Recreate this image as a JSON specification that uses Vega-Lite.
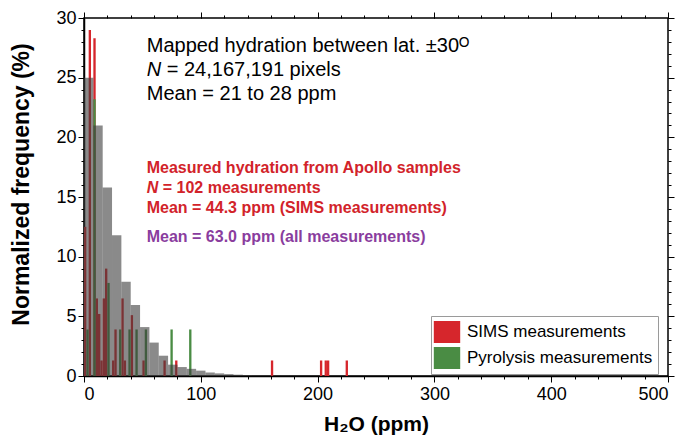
{
  "$schema": "https://vega.github.io/schema/vega-lite/v6.json",
  "width": 584,
  "height": 358,
  "autosize": {"type": "none"},
  "padding": {"left": 84, "top": 18, "right": 21, "bottom": 66},
  "background": "white",
  "config": {
    "font": "Liberation Sans",
    "view": {"stroke": "black", "strokeWidth": 1.5},
    "axis": {
      "grid": false,
      "domainColor": "black",
      "domainWidth": 1.5,
      "tickColor": "black",
      "tickWidth": 1,
      "labelFont": "Liberation Sans",
      "labelFontSize": 18,
      "labelColor": "black",
      "titleFont": "Liberation Sans",
      "titleFontSize": 21,
      "titleFontWeight": "bold",
      "titleColor": "black"
    }
  },
  "datasets": {
    "apollo": [
      {"x0": 0, "x1": 2, "freq": 12.5, "method": "SIMS measurements"},
      {"x0": 4, "x1": 6, "freq": 29.0, "method": "SIMS measurements"},
      {"x0": 8, "x1": 10, "freq": 28.3, "method": "SIMS measurements"},
      {"x0": 10, "x1": 12, "freq": 6.5, "method": "SIMS measurements"},
      {"x0": 12, "x1": 14, "freq": 5.2, "method": "SIMS measurements"},
      {"x0": 14, "x1": 16, "freq": 1.3, "method": "SIMS measurements"},
      {"x0": 16, "x1": 18, "freq": 6.5, "method": "SIMS measurements"},
      {"x0": 18, "x1": 20, "freq": 9.0, "method": "SIMS measurements"},
      {"x0": 24, "x1": 26, "freq": 1.3, "method": "SIMS measurements"},
      {"x0": 26, "x1": 28, "freq": 3.9, "method": "SIMS measurements"},
      {"x0": 32, "x1": 34, "freq": 6.5, "method": "SIMS measurements"},
      {"x0": 34, "x1": 36, "freq": 1.3, "method": "SIMS measurements"},
      {"x0": 40, "x1": 42, "freq": 5.1, "method": "SIMS measurements"},
      {"x0": 50, "x1": 52, "freq": 1.3, "method": "SIMS measurements"},
      {"x0": 68, "x1": 70, "freq": 1.3, "method": "SIMS measurements"},
      {"x0": 78, "x1": 80, "freq": 1.3, "method": "SIMS measurements"},
      {"x0": 160, "x1": 162, "freq": 1.3, "method": "SIMS measurements"},
      {"x0": 202, "x1": 204, "freq": 1.3, "method": "SIMS measurements"},
      {"x0": 206, "x1": 208, "freq": 1.3, "method": "SIMS measurements"},
      {"x0": 208, "x1": 210, "freq": 1.3, "method": "SIMS measurements"},
      {"x0": 224, "x1": 226, "freq": 1.3, "method": "SIMS measurements"},
      {"x0": 2, "x1": 4, "freq": 3.9, "method": "Pyrolysis measurements"},
      {"x0": 8, "x1": 10, "freq": 23.2, "method": "Pyrolysis measurements"},
      {"x0": 20, "x1": 22, "freq": 7.8, "method": "Pyrolysis measurements"},
      {"x0": 30, "x1": 32, "freq": 3.9, "method": "Pyrolysis measurements"},
      {"x0": 38, "x1": 40, "freq": 3.9, "method": "Pyrolysis measurements"},
      {"x0": 44, "x1": 46, "freq": 3.9, "method": "Pyrolysis measurements"},
      {"x0": 52, "x1": 54, "freq": 3.9, "method": "Pyrolysis measurements"},
      {"x0": 74, "x1": 76, "freq": 3.9, "method": "Pyrolysis measurements"},
      {"x0": 90, "x1": 92, "freq": 3.9, "method": "Pyrolysis measurements"}
    ],
    "mapped": [
      {"x0": 0, "x1": 8, "freq": 25.0},
      {"x0": 8, "x1": 16, "freq": 21.0},
      {"x0": 16, "x1": 24, "freq": 15.8},
      {"x0": 24, "x1": 32, "freq": 11.8},
      {"x0": 32, "x1": 40, "freq": 7.9},
      {"x0": 40, "x1": 48, "freq": 5.95},
      {"x0": 48, "x1": 56, "freq": 4.1},
      {"x0": 56, "x1": 64, "freq": 2.8},
      {"x0": 64, "x1": 72, "freq": 1.7},
      {"x0": 72, "x1": 80, "freq": 0.95},
      {"x0": 80, "x1": 88, "freq": 0.75},
      {"x0": 88, "x1": 96, "freq": 0.6},
      {"x0": 96, "x1": 104, "freq": 0.45},
      {"x0": 104, "x1": 112, "freq": 0.3},
      {"x0": 112, "x1": 120, "freq": 0.22},
      {"x0": 120, "x1": 128, "freq": 0.16},
      {"x0": 128, "x1": 136, "freq": 0.11},
      {"x0": 136, "x1": 144, "freq": 0.08},
      {"x0": 144, "x1": 152, "freq": 0.05},
      {"x0": 152, "x1": 160, "freq": 0.04},
      {"x0": 160, "x1": 168, "freq": 0.03},
      {"x0": 168, "x1": 176, "freq": 0.02},
      {"x0": 176, "x1": 184, "freq": 0.015},
      {"x0": 184, "x1": 200, "freq": 0.01}
    ],
    "blackText": [
      {"x": 53.7, "y": 27.15, "text": "Mapped hydration between lat. ±30ᴼ"},
      {"x": 53.7, "y": 23.14, "text": "Mean = 21 to 28 ppm"}
    ],
    "blackN": [{"x": 53.7, "y": 25.1, "text": "N"}],
    "blackRest": [{"x": 53.7, "y": 25.1, "text": "= 24,167,191 pixels"}],
    "redText": [
      {"x": 53.7, "y": 16.99, "text": "Measured hydration from Apollo samples"},
      {"x": 53.7, "y": 13.68, "text": "Mean = 44.3 ppm (SIMS measurements)"}
    ],
    "redN": [{"x": 53.7, "y": 15.31, "text": "N"}],
    "redRest": [{"x": 53.7, "y": 15.31, "text": "= 102 measurements"}],
    "purpleText": [{"x": 53.7, "y": 11.25, "text": "Mean = 63.0 ppm (all measurements)"}]
  },
  "layer": [
    {
      "data": {"name": "apollo"},
      "mark": {"type": "bar"},
      "encoding": {
        "x": {
          "field": "x0", "type": "quantitative",
          "scale": {"domain": [0, 500], "nice": false, "zero": false},
          "axis": {
            "orient": "bottom",
            "title": "H₂O (ppm)",
            "values": [0, 100, 200, 300, 400, 500],
            "tickSize": 6,
            "labelPadding": 3,
            "titlePadding": 10
          }
        },
        "x2": {"field": "x1"},
        "y": {
          "field": "freq", "type": "quantitative",
          "scale": {"domain": [0, 30], "nice": false},
          "axis": {
            "orient": "left",
            "title": "Normalized frequency (%)",
            "titleFontSize": 23,
            "titleY": 166,
            "values": [0, 5, 10, 15, 20, 25, 30],
            "tickSize": 6,
            "labelPadding": 2,
            "titlePadding": 22
          }
        },
        "y2": {"datum": 0},
        "color": {
          "field": "method", "type": "nominal",
          "scale": {"domain": ["SIMS measurements", "Pyrolysis measurements"], "range": ["#d6262c", "#4a8c44"]},
          "legend": {
            "orient": "none",
            "legendX": 347,
            "legendY": 298,
            "title": null,
            "symbolType": "M-1.2,-1L1.2,-1L1.2,1L-1.2,1Z",
            "symbolSize": 484,
            "symbolStrokeWidth": 0,
            "symbolOpacity": 1,
            "labelFontSize": 17,
            "labelFont": "Liberation Sans",
            "labelColor": "black",
            "labelOffset": 9,
            "labelLimit": 300,
            "rowPadding": 4,
            "padding": 5,
            "strokeColor": "#9a9a9a",
            "fillColor": "white"
          }
        }
      }
    },
    {
      "data": {"name": "mapped"},
      "mark": {"type": "bar", "color": "#3c3c3c", "opacity": 0.6},
      "encoding": {
        "x": {
          "field": "x0", "type": "quantitative",
          "axis": {
            "orient": "bottom", "title": null, "labels": false, "domain": false, "tickSize": 3,
            "values": [0,20,40,60,80,100,120,140,160,180,200,220,240,260,280,300,320,340,360,380,400,420,440,460,480,500]
          }
        },
        "x2": {"field": "x1"},
        "y": {
          "field": "freq", "type": "quantitative",
          "axis": {
            "orient": "left", "title": null, "labels": false, "domain": false, "tickSize": 3,
            "values": [0,1,2,3,4,5,6,7,8,9,10,11,12,13,14,15,16,17,18,19,20,21,22,23,24,25,26,27,28,29,30]
          }
        },
        "y2": {"datum": 0}
      }
    },
    {
      "data": {"name": "blackText"},
      "mark": {"type": "text", "align": "left", "baseline": "alphabetic", "fontSize": 20, "font": "Liberation Sans", "color": "black"},
      "encoding": {
        "x": {
          "field": "x", "type": "quantitative",
          "axis": {
            "orient": "top", "title": null, "labels": false, "domain": false, "tickSize": 3,
            "values": [0,20,40,60,80,100,120,140,160,180,200,220,240,260,280,300,320,340,360,380,400,420,440,460,480,500]
          }
        },
        "y": {
          "field": "y", "type": "quantitative",
          "axis": {
            "orient": "right", "title": null, "labels": false, "domain": false, "tickSize": 3,
            "values": [0,1,2,3,4,5,6,7,8,9,10,11,12,13,14,15,16,17,18,19,20,21,22,23,24,25,26,27,28,29,30]
          }
        },
        "text": {"field": "text"}
      }
    },
    {
      "data": {"name": "blackN"},
      "mark": {"type": "text", "align": "left", "baseline": "alphabetic", "fontSize": 20, "font": "Liberation Sans", "fontStyle": "italic", "color": "black"},
      "encoding": {
        "x": {
          "field": "x", "type": "quantitative",
          "axis": {"orient": "top", "title": null, "labels": false, "domain": false, "tickSize": 6, "values": [0, 100, 200, 300, 400, 500]}
        },
        "y": {
          "field": "y", "type": "quantitative",
          "axis": {"orient": "right", "title": null, "labels": false, "domain": false, "tickSize": 6, "values": [0, 5, 10, 15, 20, 25, 30]}
        },
        "text": {"field": "text"}
      }
    },
    {
      "data": {"name": "blackRest"},
      "mark": {"type": "text", "align": "left", "baseline": "alphabetic", "fontSize": 20, "font": "Liberation Sans", "color": "black", "dx": 20},
      "encoding": {
        "x": {"field": "x", "type": "quantitative", "axis": null},
        "y": {"field": "y", "type": "quantitative", "axis": null},
        "text": {"field": "text"}
      }
    },
    {
      "data": {"name": "redText"},
      "mark": {"type": "text", "align": "left", "baseline": "alphabetic", "fontSize": 16, "font": "Liberation Sans", "fontWeight": "bold", "color": "#d2232a"},
      "encoding": {
        "x": {"field": "x", "type": "quantitative", "axis": null},
        "y": {"field": "y", "type": "quantitative", "axis": null},
        "text": {"field": "text"}
      }
    },
    {
      "data": {"name": "redN"},
      "mark": {"type": "text", "align": "left", "baseline": "alphabetic", "fontSize": 16, "font": "Liberation Sans", "fontWeight": "bold", "fontStyle": "italic", "color": "#d2232a"},
      "encoding": {
        "x": {"field": "x", "type": "quantitative", "axis": null},
        "y": {"field": "y", "type": "quantitative", "axis": null},
        "text": {"field": "text"}
      }
    },
    {
      "data": {"name": "redRest"},
      "mark": {"type": "text", "align": "left", "baseline": "alphabetic", "fontSize": 16, "font": "Liberation Sans", "fontWeight": "bold", "color": "#d2232a", "dx": 16},
      "encoding": {
        "x": {"field": "x", "type": "quantitative", "axis": null},
        "y": {"field": "y", "type": "quantitative", "axis": null},
        "text": {"field": "text"}
      }
    },
    {
      "data": {"name": "purpleText"},
      "mark": {"type": "text", "align": "left", "baseline": "alphabetic", "fontSize": 16, "font": "Liberation Sans", "fontWeight": "bold", "color": "#8a3d9e"},
      "encoding": {
        "x": {"field": "x", "type": "quantitative", "axis": null},
        "y": {"field": "y", "type": "quantitative", "axis": null},
        "text": {"field": "text"}
      }
    }
  ],
  "resolve": {"axis": {"x": "independent", "y": "independent"}}
}
